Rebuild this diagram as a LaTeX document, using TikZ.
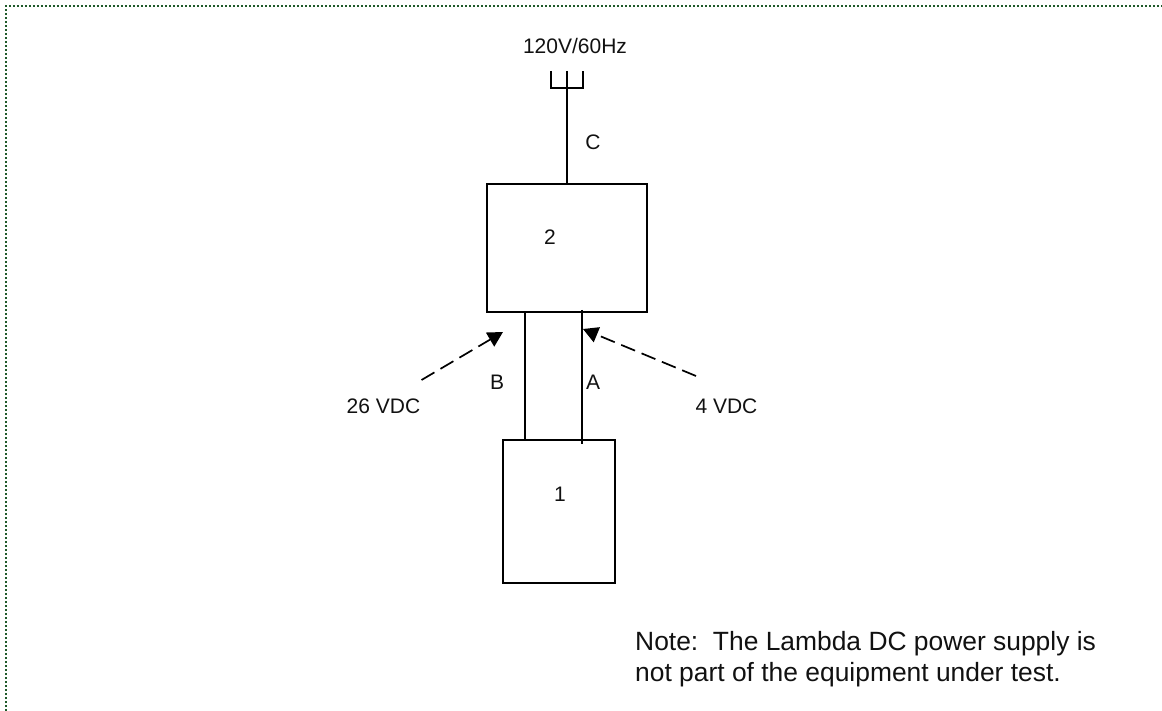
\documentclass[tikz,border=0pt]{standalone}
\usepackage{fontspec}
\setmainfont{Liberation Sans}
\usetikzlibrary{arrows.meta}
\definecolor{frame}{HTML}{1F5A2A}
\definecolor{ink}{HTML}{111111}
\tikzset{
  x=1pt,y=-1pt,
  box/.style={draw=black,line width=1.8pt,minimum width=0pt,inner sep=0pt,rectangle},
  wire/.style={draw=black,line width=1.8pt},
  callout/.style={draw=black,line width=1.7pt,dash pattern=on 15pt off 7pt,-{Triangle[length=15pt,width=16pt,fill=black]}},
  lab/.style={inner sep=0pt,text=ink,font=\fontsize{21}{24}\selectfont},
  frameline/.style={draw=frame,line width=2pt,dash pattern=on 2pt off 2pt}
}
\begin{document}
\begin{tikzpicture}
\useasboundingbox (0,0) rectangle (1162,711);
\coordinate (fa) at (6,711);
\coordinate (fb) at (6,6);
\coordinate (fc) at (1162,6);
\draw[frameline] (fa) -- (fb) -- (fc);
\node[box,minimum width=160pt,minimum height=128pt] (two) at (567,248) {};
\node[box,minimum width=112pt,minimum height=143pt] (one) at (559,511.5) {};
\coordinate (forkL) at (551,71);
\coordinate (forkR) at (583,71);
\coordinate (forkLb) at (551,88);
\coordinate (forkRb) at (583,88);
\coordinate (forkT) at (567,71);
\coordinate (cEnd) at (567,184);
\draw[wire] (forkL) -- (forkLb) -- (forkRb) -- (forkR);
\draw[wire] (forkT) -- (cEnd);
\coordinate (bTop) at (525,312);
\coordinate (bBot) at (525,440);
\coordinate (aTop) at (582,310);
\coordinate (aBot) at (582,444);
\draw[wire] (bTop) -- (bBot);
\draw[wire] (aTop) -- (aBot);
\coordinate (lS) at (421.5,380);
\coordinate (lE) at (503,332);
\coordinate (rS) at (696,376);
\coordinate (rE) at (583,329);
\draw[callout] (lS) -- (lE);
\draw[callout] (rS) -- (rE);
\node[lab] (mains) at (575,46) {120V/60Hz};
\node[lab] (c) at (593,142) {C};
\node[lab] (n2) at (550,237) {2};
\node[lab] (b) at (497,382) {B};
\node[lab] (a) at (593,382) {A};
\node[lab] (v26) at (383.5,406) {26 VDC};
\node[lab] (v4) at (726.5,406) {4 VDC};
\node[lab] (n1) at (560,494) {1};
\node[lab,anchor=north west,align=left,font=\fontsize{26.4}{30.7}\selectfont] (note) at (635,631) {Note:\ \ The Lambda DC power supply is\\not part of the equipment under test.};
\end{tikzpicture}
\end{document}
